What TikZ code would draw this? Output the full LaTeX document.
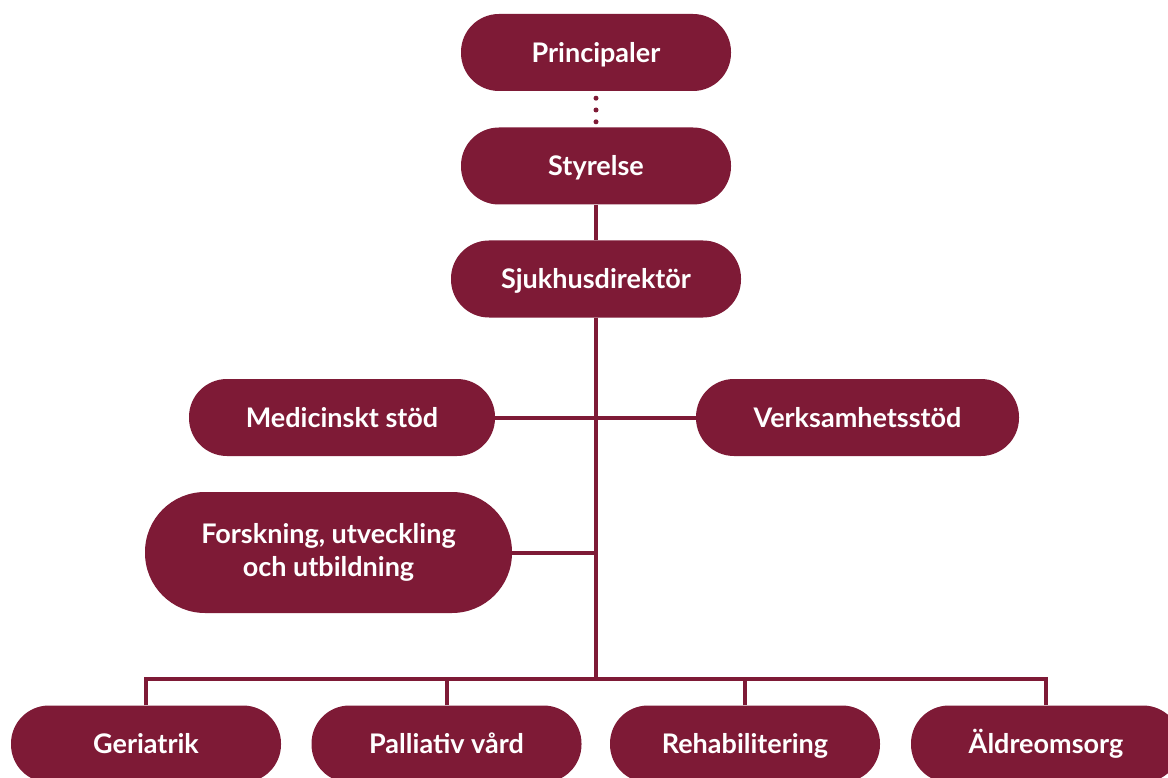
\documentclass[tikz,border=0pt]{standalone}
\usepackage{fontspec}
\setmainfont{Lato}
\definecolor{vinrod}{RGB}{126,26,54}
\tikzset{%
    box/.style={fill=vinrod,text=white,rounded corners=38pt,minimum width=270pt,
        minimum height=77pt,inner sep=0pt,text height=19.5pt,text depth=0pt,
        font=\fontsize{27}{33}\selectfont\bfseries}
}

\begin{document}
\begin{tikzpicture}[
        x=1pt,y=-1pt,
        edge/.style={draw=vinrod,line width=4pt},
        dots/.style={draw=vinrod,line width=5pt,line cap=round,dash pattern=on 0pt off 11.8pt,
            shorten <=7pt,shorten >=5.5pt}
        ]
        \clip (0,0) rectangle (1168,778);
        \fill[white] (0,0) rectangle (1168,778);

        \node[box] (princ) at (596,52.5){Principaler};
        \node[box] (styr) at (596,166){Styrelse};
        \node[box,minimum width=290pt] (dir) at (596,279){Sjukhusdirektör};

        \node[box,minimum width=306pt] (med) at (342,417.5){Medicinskt stöd};
        \node[box,minimum width=323pt] (verk) at (857.5,417.5){Verksamhetsstöd};
        \node[box,minimum width=367pt,minimum height=121pt,rounded corners=60pt,align=center,
            text height=,text depth=] (fou) at (328.5,552.5){Forskning, utveckling\\och utbildning};

        \node[box] (ger) at (146,744){Geriatrik};
        \node[box] (pal) at (446.5,744){Palliativ vård};
        \node[box] (rehab) at (745,744){Rehabilitering};
        \node[box] (ald) at (1046,744){Äldreomsorg};

        \coordinate (bus) at (596,679);

        \draw[dots] (princ) -- (styr);
        \draw[edge] (styr) -- (dir);
        \draw[edge] (dir.south) -- (bus);
        \draw[edge] (med.east) -- (verk.west);
        \draw[edge] (fou.east) -- (fou.east -| bus);

        \draw[edge] (ger.north) |- (ald.north |- bus) -- (ald.north);
        \draw[edge] (pal.north) -- (pal.north |- bus);
        \draw[edge] (rehab.north) -- (rehab.north |- bus);
    \end{tikzpicture}
\end{document}
